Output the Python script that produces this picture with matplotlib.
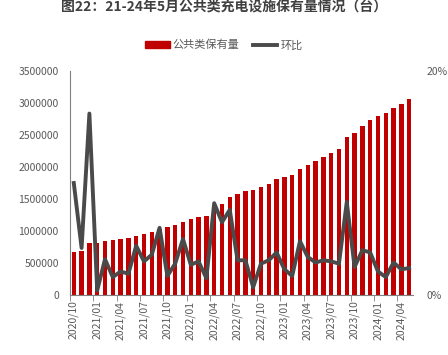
import numpy as np
import matplotlib.pyplot as plt
from matplotlib.patches import Patch
from matplotlib.lines import Line2D

plt.rcParams['font.family'] = ['Noto Sans CJK SC', 'DejaVu Sans']

# months 2020/10 .. 2024/05
months = []
for y in range(2020, 2025):
    for m in range(1, 13):
        if (y == 2020 and m < 10) or (y == 2024 and m > 5):
            continue
        months.append('%d/%02d' % (y, m))

# public charging facilities (units)
stock = [667, 692, 812, 812, 844, 854, 870, 890, 927, 958, 990, 1036,
         1068, 1099, 1148, 1182, 1219, 1236, 1336, 1422, 1536, 1578, 1630, 1640,
         1687, 1734, 1807, 1844, 1875, 1969, 2031, 2094, 2156, 2219, 2281, 2469,
         2536, 2635, 2734, 2792, 2844, 2922, 2990, 3063]
stock = [v * 1000 for v in stock]

# month-on-month growth (%)
mom = [10.0, 4.2, 16.2, 0.4, 3.2, 1.6, 2.1, 1.9, 4.4, 3.0, 3.6, 6.0,
       1.7, 2.8, 5.0, 2.7, 3.0, 1.5, 8.2, 6.5, 7.6, 3.1, 3.1, 0.7,
       2.8, 3.1, 3.8, 2.3, 1.7, 4.8, 3.4, 2.9, 3.1, 3.0, 2.8, 8.3,
       2.5, 4.0, 3.8, 2.1, 1.6, 2.9, 2.3, 2.4]

red = '#C00000'
dark = '#4A4A4A'
txt = '#595959'

fig = plt.figure(figsize=(4.48, 3.55), dpi=100)
ax = fig.add_axes([0.156, 0.169, 0.766, 0.631])
x = np.arange(len(months))
ax.bar(x, stock, width=0.55, color=red, zorder=2)
ax.set_xlim(-0.5, len(months) - 0.5)
ax.set_ylim(0, 3500000)
ax.set_yticks(np.arange(0, 3500001, 500000))
ax.set_yticklabels([str(v) for v in range(0, 3500001, 500000)])
ax.tick_params(axis='y', length=0, labelsize=7.5, colors=txt, pad=8)
ax.set_xticks(x[::3])
ax.set_xticklabels(months[::3], rotation=90)
ax.tick_params(axis='x', length=0, labelsize=7.5, colors=txt, pad=4)
ax.set_xticks(np.arange(-0.5, len(months), 3), minor=True)
ax.tick_params(axis='x', which='minor', length=4, color='#808080')
for s in ['top', 'right']:
    ax.spines[s].set_visible(False)
ax.spines['left'].set_color('#808080')
ax.spines['bottom'].set_color('#808080')

ax2 = ax.twinx()
ax2.plot(x, np.array(mom) / 100, color=dark, lw=2.8, zorder=3)
ax2.set_ylim(0, 0.2)
ax2.set_yticks([0, 0.2])
ax2.set_yticklabels(['0%', '20%'])
ax2.tick_params(axis='y', length=0, labelsize=7.5, colors=txt, pad=10)
for s in ax2.spines.values():
    s.set_visible(False)

fig.text(0.5, 0.982, '图22：21-24年5月公共类充电设施保有量情况（台）', ha='center', va='center',
         fontsize=10, fontweight='bold', color='#404040')
handles = [Patch(color=red), Line2D([0], [0], color=dark, lw=2.8)]
fig.legend(handles, ['公共类保有量', '环比'], loc='center', bbox_to_anchor=(0.5, 0.873),
           ncol=2, frameon=False, fontsize=8, labelcolor=txt, handlelength=2.2,
           handleheight=0.6, columnspacing=1.2, handletextpad=0.3)

fig.savefig('out.png', dpi=100)
